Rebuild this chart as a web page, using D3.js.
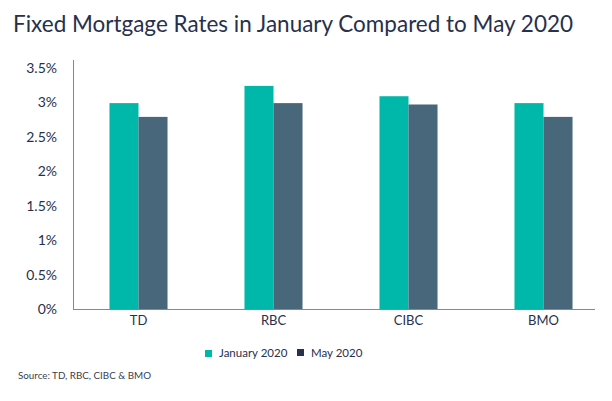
<!DOCTYPE html>
<html>
<head>
<meta charset="utf-8">
<script src="https://cdn.jsdelivr.net/npm/d3@7"></script>
<style>
  body { margin: 0; background: #fff; }
</style>
</head>
<body>
<svg></svg>
<script>
let banks = ['TD', 'RBC', 'CIBC', 'BMO'];
let series = ['January 2020', 'May 2020'];
let january = [2.99, 3.24, 3.09, 2.99];
let may = [2.79, 2.99, 2.97, 2.79];
let yTicks = [0, 0.5, 1, 1.5, 2, 2.5, 3, 3.5];

let width = 612;
let height = 401;
let font = 'Lato, "Open Sans", sans-serif';

let svg = d3.select('svg')
    .attr('width', width)
    .attr('height', height)
    .attr('font-family', font);

svg.append('rect').attr('width', width).attr('height', height).attr('fill', '#fff');

// title
svg.append('text')
    .attr('x', 13)
    .attr('y', 32)
    .attr('font-size', 24)
    .attr('fill', '#27304d')
    .attr('textLength', 560)
    .attr('lengthAdjust', 'spacingAndGlyphs')
    .text('Fixed Mortgage Rates in January Compared to May 2020');

let y = d3.scaleLinear().domain([0, 3.5]).range([309, 68]);
let x = d3.scaleBand().domain(banks).range([71, 611])
    .paddingInner(0.57).paddingOuter(0.285);
let xs = d3.scaleBand().domain(series).range([0, x.bandwidth()]);
let colors = d3.scaleOrdinal().domain(series).range(['#00b8a9', '#48677a']);
let legendColors = ['#00b8a9', '#27304d'];

let rows = banks.map((b, i) => ({ bank: b, values: [january[i], may[i]] }));

let groups = svg.selectAll('.bank')
    .data(rows)
    .enter()
    .append('g')
    .attr('class', 'bank')
    .attr('transform', d => `translate(${x(d.bank)},0)`);

groups.selectAll('rect')
    .data(d => d.values.map((v, j) => ({ s: series[j], v: v })))
    .enter()
    .append('rect')
    .attr('x', d => xs(d.s))
    .attr('width', xs.bandwidth())
    .attr('y', d => y(d.v))
    .attr('height', d => y(0) - y(d.v))
    .attr('fill', d => colors(d.s));

// y axis
let yAxis = svg.append('g')
    .attr('transform', 'translate(73,0)')
    .call(d3.axisLeft(y).tickValues(yTicks).tickSize(0).tickPadding(16)
        .tickFormat(d => d + '%'));
yAxis.select('.domain').remove();
yAxis.selectAll('text')
    .attr('font-family', font)
    .attr('font-size', 14)
    .attr('fill', '#27304d');

svg.append('line')
    .attr('x1', 73.5).attr('x2', 73.5)
    .attr('y1', 60).attr('y2', y(0))
    .attr('stroke', '#888').attr('stroke-width', 1);

// x axis
let xAxis = svg.append('g')
    .attr('transform', `translate(0,${y(0)})`)
    .call(d3.axisBottom(x).tickSize(0).tickPadding(7));
xAxis.select('.domain').remove();
xAxis.selectAll('text')
    .attr('font-family', font)
    .attr('font-size', 13)
    .attr('fill', '#27304d');

svg.append('line')
    .attr('x1', 73).attr('x2', 595)
    .attr('y1', y(0) + 0.5).attr('y2', y(0) + 0.5)
    .attr('stroke', '#888').attr('stroke-width', 1);

// legend
let legendX = [205, 297];
let legend = svg.selectAll('.legend')
    .data(series)
    .enter()
    .append('g')
    .attr('class', 'legend')
    .attr('transform', (d, i) => `translate(${legendX[i]},349)`);
legend.append('rect')
    .attr('width', 7).attr('height', 7)
    .attr('y', (d, i) => i === 0 ? 1 : 0)
    .attr('fill', (d, i) => legendColors[i]);
legend.append('text')
    .attr('x', 14)
    .attr('y', 8)
    .attr('font-size', 11.5)
    .attr('fill', '#27304d')
    .text(d => d);

// source
svg.append('text')
    .attr('x', 18)
    .attr('y', 379)
    .attr('font-size', 9.8)
    .attr('fill', '#3a4150')
    .text('Source: TD, RBC, CIBC & BMO');
</script>
</body>
</html>
